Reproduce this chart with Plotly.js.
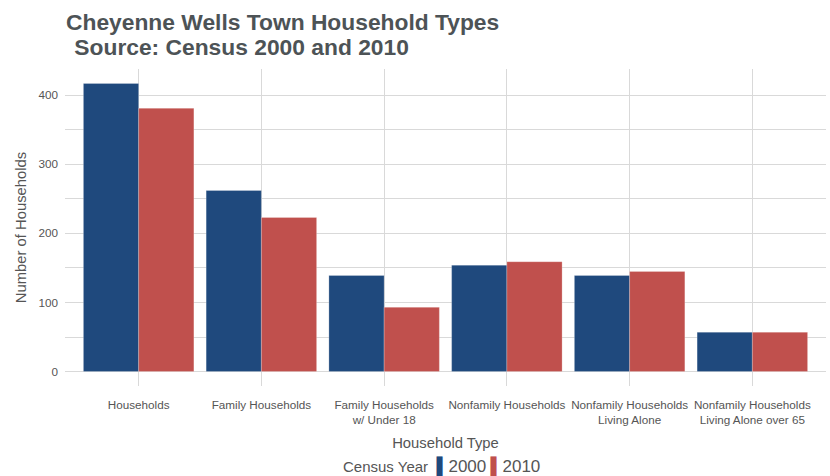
<!DOCTYPE html>
<html><head><meta charset="utf-8">
<script src="https://cdn.plot.ly/plotly-3.0.1.min.js"></script>
<style>html,body{margin:0;padding:0;background:#fff}</style>
</head><body>
<div id="chart" style="width:830px;height:476px"></div>
<script>
const categories = ["Households", "Family Households", "Family Households<br>w/ Under 18", "Nonfamily Households", "Nonfamily Households<br>Living Alone", "Nonfamily Households<br>Living Alone over 65"];
const values2000 = [417, 262, 139, 154, 139, 57];
const values2010 = [381, 223, 93, 159, 145, 57];
const seriesNames = ["2000", "2010"];
const seriesColors = ["#1f497d", "#c0504d"];
const yTicks = [0, 100, 200, 300, 400];
const titleLine1 = "Cheyenne Wells Town Household Types";
const titleLine2 = " Source: Census 2000 and 2010";

const grid = '#d9d9d9';
const txt = '#555555';
const F = 'Liberation Sans, Arial, sans-serif';
const traces = [
  {type:'bar', name:seriesNames[0], x:categories, y:values2000, marker:{color:seriesColors[0], line:{color:'rgba(255,255,255,0.4)', width:0.6}}},
  {type:'bar', name:seriesNames[1], x:categories, y:values2010, marker:{color:seriesColors[1], line:{color:'rgba(255,255,255,0.4)', width:0.6}}}
];
const legendText = 'Census Year  ' + seriesNames.map((n,i) =>
  `<span style="color:${seriesColors[i]};font-size:17px">▌</span><span style="font-size:17px">${n}</span>`).join(' ');
const layout = {
  width:830, height:476,
  margin:{l:65, r:4, t:69, b:90},
  paper_bgcolor:'#fff', plot_bgcolor:'#fff',
  font:{family:F, color:txt},
  barmode:'group', bargap:0.1, bargroupgap:0,
  showlegend:false,
  title:{text:titleLine1, x:66/830, xanchor:'left', xref:'container', y:1-21.7/476, yanchor:'middle', yref:'container',
    font:{family:F, size:22.8, weight:'bold', color:'#4d5356'}},
  annotations:[
    {text:titleLine2, xref:'paper', yref:'paper', x:(66-65)/761, xanchor:'left', y:(386-46.7)/317, yanchor:'middle', showarrow:false,
      font:{family:F, size:22.8, weight:'bold', color:'#4d5356'}},
    {text:legendText, xref:'paper', yref:'paper', x:0.495, xanchor:'center', y:(386-467)/317, yanchor:'middle', showarrow:false,
      font:{family:F, size:15, color:txt}}
  ],
  xaxis:{automargin:false, range:[-0.6, 5.6], showgrid:true, gridcolor:grid, gridwidth:1, zeroline:false, showline:false, ticks:'', tickfont:{size:11.7, color:txt}, ticklabelstandoff:10,
    title:{text:'Household Type', font:{size:14.8, color:txt}, standoff:12}},
  yaxis:{automargin:false, range:[-20.85, 437.85], tickvals:yTicks, showgrid:true, gridcolor:grid, gridwidth:1, zeroline:false, showline:false, ticks:'',
    minor:{tickvals:[50,150,250,350], showgrid:true, gridcolor:grid, gridwidth:1},
    tickfont:{size:11.7, color:txt}, ticklabelstandoff:6,
    title:{text:'Number of Households', font:{size:14.8, color:txt}, standoff:8}}
};
Plotly.newPlot('chart', traces, layout, {displayModeBar:false, staticPlot:true});
</script>
</body></html>
